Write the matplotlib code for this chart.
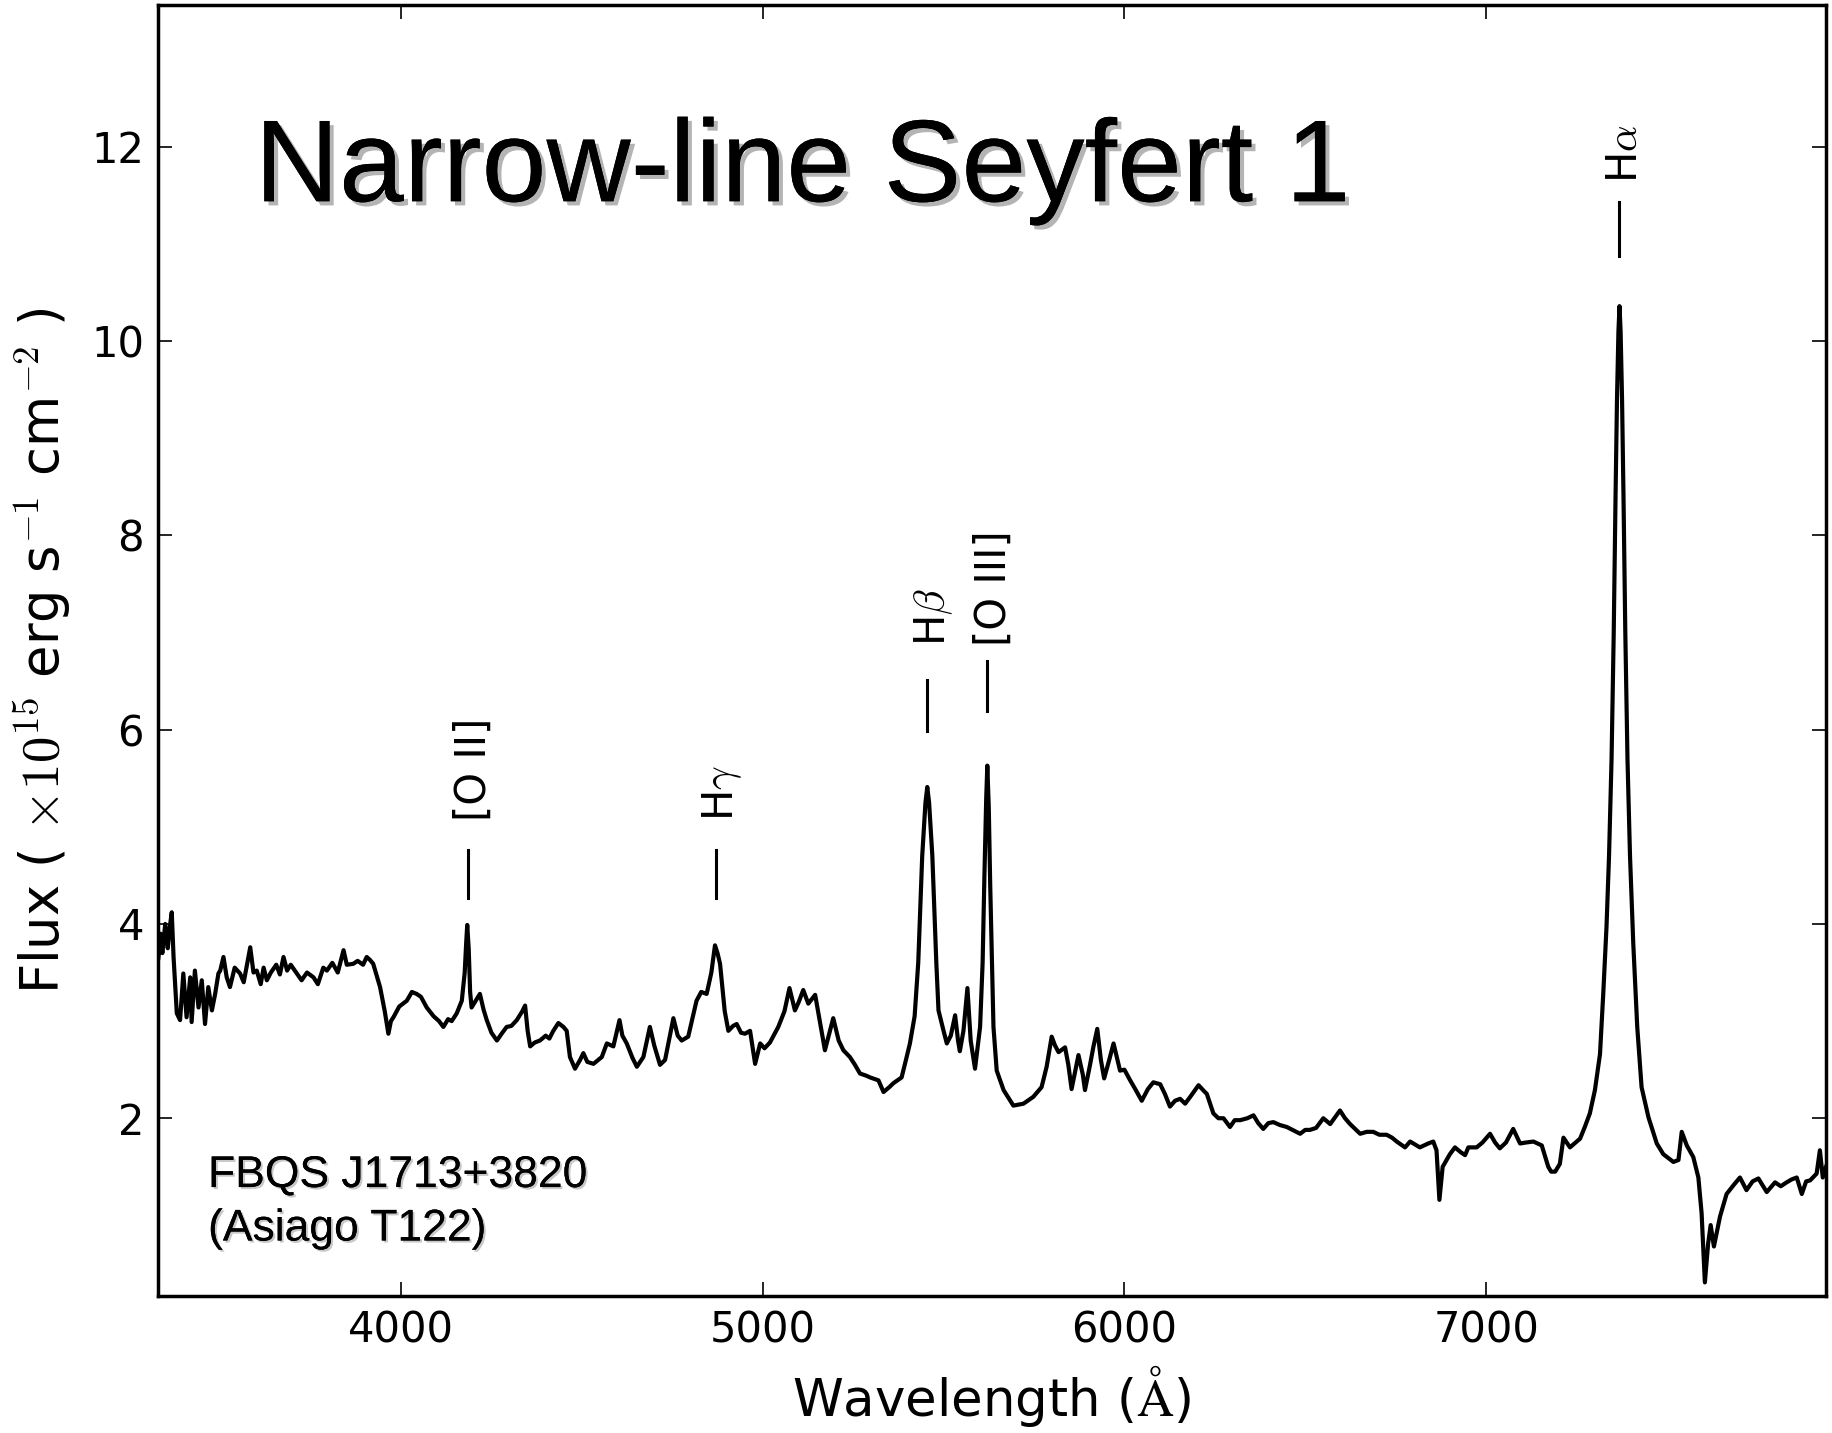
import matplotlib
matplotlib.use('Agg')
import matplotlib.pyplot as plt
import matplotlib.patheffects as pe

# spectrum (wavelength in A, flux in 1e-15 erg/s/cm2)
wave = [3329, 3335, 3340, 3348, 3355, 3360, 3366, 3371, 3380, 3389, 3398, 3407, 3417, 3421,
        3430, 3440, 3449, 3458, 3467, 3477, 3486, 3495, 3500, 3509, 3518, 3527, 3540, 3555,
        3565, 3575, 3583, 3592, 3601, 3612, 3620, 3629, 3640, 3655, 3665, 3675, 3685, 3695,
        3712, 3725, 3740, 3758, 3770, 3785, 3795, 3810, 3825, 3841, 3850, 3868, 3880, 3895,
        3905, 3914, 3923, 3942, 3955, 3965, 3972, 3979, 3995, 4016, 4030, 4043, 4055, 4071,
        4090, 4105, 4117, 4130, 4140, 4154, 4168, 4176, 4180, 4183, 4187, 4191, 4195, 4205,
        4218, 4228, 4237, 4250, 4265, 4280, 4292, 4305, 4320, 4335, 4343, 4350, 4357, 4370,
        4384, 4400, 4410, 4421, 4435, 4449, 4458, 4467, 4481, 4495, 4504, 4515, 4532, 4545,
        4555, 4569, 4587, 4604, 4612, 4624, 4640, 4652, 4670, 4688, 4700, 4716, 4730, 4753,
        4765, 4776, 4794, 4817, 4830, 4845, 4858, 4868, 4875, 4882, 4895, 4905, 4918, 4928,
        4940, 4951, 4965, 4979, 4993, 5005, 5020, 5043, 5060, 5074, 5089, 5100, 5112, 5126,
        5145, 5160, 5172, 5195, 5210, 5223, 5241, 5255, 5269, 5285, 5297, 5320, 5334, 5350,
        5361, 5384, 5396, 5407, 5420, 5430, 5441, 5450, 5455, 5460, 5469, 5480, 5486, 5500,
        5509, 5520, 5532, 5540, 5545, 5555, 5566, 5575, 5587, 5601, 5608, 5613, 5618, 5621,
        5625, 5629, 5634, 5638, 5647, 5666, 5693, 5721, 5748, 5771, 5785, 5799, 5808, 5818,
        5836, 5845, 5854, 5873, 5885, 5891, 5905, 5914, 5925, 5935, 5944, 5958, 5970, 5988,
        6000, 6016, 6030, 6048, 6065, 6080, 6099, 6112, 6126, 6140, 6154, 6168, 6182, 6205,
        6220, 6228, 6246, 6260, 6274, 6292, 6305, 6320, 6340, 6357, 6370, 6384, 6398, 6412,
        6430, 6449, 6465, 6486, 6500, 6513, 6530, 6550, 6569, 6596, 6610, 6624, 6652, 6670,
        6688, 6705, 6725, 6740, 6753, 6776, 6790, 6817, 6840, 6854, 6863, 6871, 6880, 6900,
        6914, 6930, 6942, 6951, 6974, 6990, 7011, 7025, 7038, 7055, 7075, 7094, 7110, 7131,
        7154, 7172, 7180, 7191, 7204, 7214, 7232, 7260, 7273, 7287, 7301, 7315, 7324, 7333,
        7340, 7347, 7353, 7358, 7362, 7366, 7369, 7372, 7376, 7380, 7385, 7391, 7398, 7407,
        7418, 7430, 7449, 7472, 7490, 7518, 7532, 7541, 7555, 7573, 7587, 7596, 7605, 7614,
        7621, 7630, 7647, 7665, 7684, 7702, 7720, 7737, 7753, 7776, 7790, 7799, 7815, 7831,
        7845, 7859, 7873, 7885, 7896, 7914, 7923, 7931, 7940]
flux = [3.65, 3.90, 3.70, 4.00, 3.75, 3.95, 4.12, 3.66, 3.08, 3.01, 3.49, 3.04, 3.45, 2.99,
        3.52, 3.14, 3.42, 2.97, 3.35, 3.11, 3.28, 3.49, 3.52, 3.66, 3.45, 3.35, 3.55, 3.49,
        3.40, 3.60, 3.76, 3.50, 3.52, 3.38, 3.55, 3.42, 3.50, 3.58, 3.48, 3.66, 3.52, 3.58,
        3.49, 3.42, 3.50, 3.45, 3.38, 3.55, 3.52, 3.60, 3.50, 3.73, 3.58, 3.59, 3.62, 3.58,
        3.66, 3.63, 3.59, 3.35, 3.10, 2.87, 3.00, 3.04, 3.15, 3.21, 3.30, 3.28, 3.25, 3.14,
        3.05, 3.00, 2.94, 3.02, 3.00, 3.08, 3.21, 3.50, 3.80, 3.99, 3.75, 3.30, 3.14, 3.20,
        3.28, 3.12, 3.01, 2.88, 2.80, 2.88, 2.94, 2.95, 3.01, 3.10, 3.16, 2.90, 2.74, 2.78,
        2.80, 2.85, 2.82, 2.90, 2.98, 2.94, 2.90, 2.63, 2.51, 2.60, 2.67, 2.58, 2.56, 2.60,
        2.63, 2.77, 2.74, 3.01, 2.85, 2.77, 2.62, 2.53, 2.63, 2.94, 2.75, 2.55, 2.60, 3.03,
        2.85, 2.80, 2.84, 3.21, 3.30, 3.28, 3.50, 3.78, 3.70, 3.59, 3.10, 2.90, 2.95, 2.97,
        2.88, 2.87, 2.90, 2.56, 2.77, 2.72, 2.78, 2.94, 3.10, 3.34, 3.11, 3.20, 3.32, 3.18,
        3.27, 2.95, 2.70, 3.03, 2.80, 2.70, 2.63, 2.55, 2.46, 2.44, 2.42, 2.39, 2.27, 2.32,
        2.36, 2.42, 2.60, 2.77, 3.05, 3.60, 4.70, 5.25, 5.41, 5.25, 4.70, 3.60, 3.11, 2.90,
        2.77, 2.85, 3.06, 2.80, 2.69, 2.90, 3.34, 2.80, 2.51, 2.94, 3.60, 4.50, 5.30, 5.63,
        5.20, 4.40, 3.60, 2.94, 2.49, 2.29, 2.13, 2.15, 2.22, 2.32, 2.53, 2.84, 2.75, 2.68,
        2.73, 2.55, 2.30, 2.65, 2.45, 2.29, 2.55, 2.73, 2.92, 2.60, 2.41, 2.60, 2.77, 2.49,
        2.50, 2.39, 2.30, 2.18, 2.30, 2.37, 2.35, 2.25, 2.12, 2.18, 2.20, 2.15, 2.22, 2.34,
        2.28, 2.25, 2.05, 2.00, 2.00, 1.91, 1.98, 1.98, 2.00, 2.03, 1.95, 1.89, 1.95, 1.96,
        1.93, 1.91, 1.88, 1.84, 1.88, 1.88, 1.90, 2.00, 1.94, 2.08, 2.00, 1.94, 1.84, 1.86,
        1.86, 1.83, 1.83, 1.80, 1.76, 1.70, 1.76, 1.70, 1.74, 1.76, 1.67, 1.16, 1.50, 1.63,
        1.70, 1.65, 1.62, 1.70, 1.70, 1.75, 1.84, 1.75, 1.69, 1.75, 1.89, 1.74, 1.75, 1.76,
        1.72, 1.50, 1.45, 1.45, 1.53, 1.80, 1.70, 1.79, 1.91, 2.05, 2.29, 2.66, 3.28, 3.97,
        4.70, 5.70, 7.00, 8.40, 9.40, 10.10, 10.36, 10.10, 9.40, 8.40, 7.00, 5.70, 4.70, 3.80,
        2.94, 2.32, 2.01, 1.74, 1.63, 1.55, 1.57, 1.86, 1.72, 1.60, 1.39, 1.02, 0.31, 0.71,
        0.90, 0.68, 0.99, 1.22, 1.31, 1.39, 1.26, 1.35, 1.38, 1.24, 1.30, 1.34, 1.30, 1.34,
        1.37, 1.39, 1.22, 1.35, 1.36, 1.43, 1.67, 1.39, 1.50]

# emission line marks: name, wavelength, tick bottom/top, label bottom
line_names = ['[O II]', r'H$\gamma$', r'H$\beta$', '[O III]', r'H$\alpha$']
line_wave = [4185, 4870, 5455, 5621, 7368]
mark_lo = [4.27, 4.27, 5.99, 6.19, 10.88]
mark_hi = [4.76, 4.76, 6.51, 6.71, 11.43]
label_lo = [5.06, 5.06, 6.86, 6.86, 11.63]

plt.rcParams['mathtext.fontset'] = 'cm'

fig = plt.figure(figsize=(18.33, 14.33), dpi=100)
ax = fig.add_axes([0.0862, 0.0956, 0.9100, 0.9009])

ax.plot(wave, flux, '-', color='black', lw=3.0)

for name, wl, y0, y1, yl in zip(line_names, line_wave, mark_lo, mark_hi, label_lo):
    ax.plot([wl, wl], [y0, y1], '-', color='black', lw=2.2)
    ax.text(wl + 17, yl, name, rotation=90, ha='center', va='bottom', fontsize=30)

ax.set_xlim(3328, 7940)
ax.set_ylim(0.17, 13.46)
ax.set_xticks([4000, 5000, 6000, 7000])
ax.set_yticks([2, 4, 6, 8, 10, 12])
ax.tick_params(direction='in', length=10, width=1.2, top=True, right=True,
               labelsize=30, pad=10)
for sp in ax.spines.values():
    sp.set_linewidth(2.5)

ax.set_xlabel(r'Wavelength ($\mathrm{\AA}$)', fontsize=37, labelpad=8)
ax.set_ylabel(r'Flux ( $\times 10^{15}$ erg s$^{-1}$ cm$^{-2}$ )', fontsize=38, labelpad=12)

shadow = [pe.withSimplePatchShadow(offset=(3, -3), shadow_rgbFace='#b4b4b4', alpha=1.0),
          pe.Normal()]
ax.text(0.058, 0.848, 'Narrow-line Seyfert 1', transform=ax.transAxes, fontsize=84,
        family='Liberation Sans', va='baseline', ha='left', path_effects=shadow)

small_shadow = [pe.withSimplePatchShadow(offset=(1.5, -1.5), shadow_rgbFace='#c8c8c8', alpha=1.0),
                pe.Normal()]
ax.text(0.030, 0.0844, 'FBQS J1713+3820', transform=ax.transAxes, fontsize=32,
        family='Liberation Sans', va='baseline', ha='left', path_effects=small_shadow)
ax.text(0.030, 0.043, '(Asiago T122)', transform=ax.transAxes, fontsize=32,
        family='Liberation Sans', va='baseline', ha='left', path_effects=small_shadow)

plt.savefig('out.png', dpi=100)
